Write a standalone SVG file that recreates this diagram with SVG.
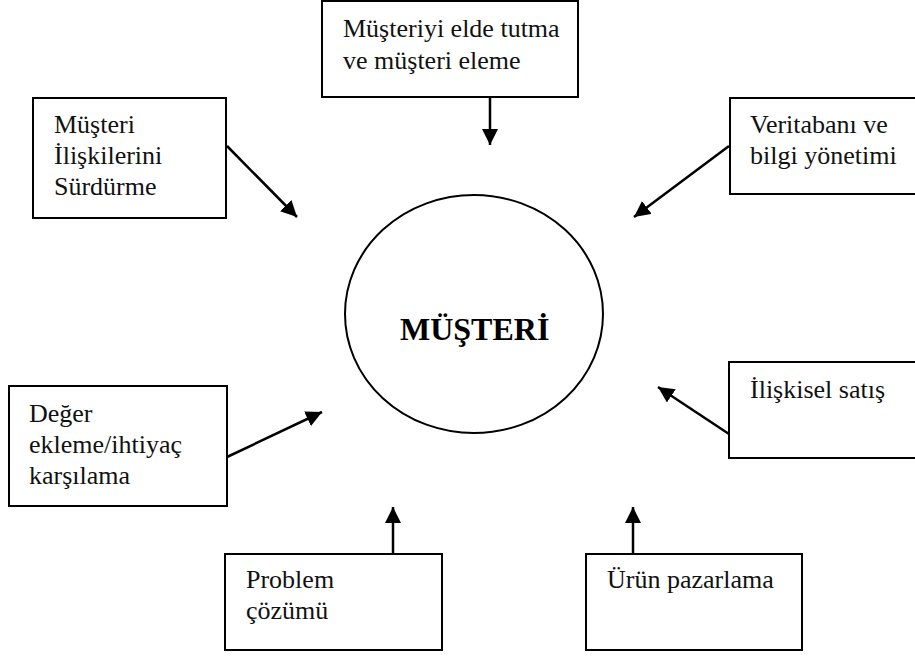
<svg xmlns="http://www.w3.org/2000/svg" width="915" height="657" viewBox="0 0 915 657">
  <style>
    .box { fill: #fff; stroke: #000; stroke-width: 2; }
    .lbl { font-family: "Liberation Serif", "Times New Roman", serif; font-size: 26px; fill: #111; }
    .core { font-family: "Liberation Serif", "Times New Roman", serif; font-size: 32px; font-weight: bold; fill: #000; }
    .conn { stroke: #000; stroke-width: 2.5; fill: none; marker-end: url(#head); }
  </style>
  <defs>
    <marker id="head" viewBox="0 0 16 16" refX="16" refY="8" markerWidth="16" markerHeight="16" markerUnits="userSpaceOnUse" orient="auto">
      <path d="M0,0 L16,8 L0,16 z" fill="#000"/>
    </marker>
  </defs>
  <rect width="915" height="657" fill="#fff"/>

  <g id="musteri">
    <ellipse cx="474" cy="314" rx="129" ry="119" fill="#fff" stroke="#000" stroke-width="2"/>
    <text class="core" x="400" y="340">MÜŞTERİ</text>
  </g>

  <g id="elde-tutma">
    <rect class="box" x="322" y="1" width="256" height="96"/>
    <text class="lbl" x="343" y="37">Müşteriyi elde tutma</text>
    <text class="lbl" x="343" y="69">ve müşteri eleme</text>
  </g>

  <g id="iliskileri-surdurme">
    <rect class="box" x="33" y="98" width="193" height="120"/>
    <text class="lbl" x="54" y="133">Müşteri</text>
    <text class="lbl" x="54" y="164">İlişkilerini</text>
    <text class="lbl" x="54" y="195">Sürdürme</text>
  </g>

  <g id="veritabani">
    <rect class="box" x="730" y="98" width="190" height="96"/>
    <text class="lbl" x="750" y="133">Veritabanı ve</text>
    <text class="lbl" x="750" y="164">bilgi yönetimi</text>
  </g>

  <g id="deger-ekleme">
    <rect class="box" x="9" y="386" width="218" height="120"/>
    <text class="lbl" x="29" y="422">Değer</text>
    <text class="lbl" x="29" y="453">ekleme/ihtiyaç</text>
    <text class="lbl" x="29" y="484">karşılama</text>
  </g>

  <g id="iliskisel-satis">
    <rect class="box" x="729" y="362" width="191" height="96"/>
    <text class="lbl" x="750" y="398">İlişkisel satış</text>
  </g>

  <g id="problem-cozumu">
    <rect class="box" x="225" y="554" width="217" height="96"/>
    <text class="lbl" x="246" y="588">Problem</text>
    <text class="lbl" x="246" y="619">çözümü</text>
  </g>

  <g id="urun-pazarlama">
    <rect class="box" x="586" y="554" width="216" height="96"/>
    <text class="lbl" x="607" y="588">Ürün pazarlama</text>
  </g>

  <g id="connectors">
    <line class="conn" x1="490" y1="97" x2="490" y2="145"/>
    <line class="conn" x1="227" y1="146" x2="297" y2="217"/>
    <line class="conn" x1="729" y1="146" x2="634" y2="217"/>
    <line class="conn" x1="227" y1="457" x2="322" y2="412"/>
    <line class="conn" x1="729" y1="434" x2="658" y2="387"/>
    <line class="conn" x1="393" y1="554" x2="393" y2="507"/>
    <line class="conn" x1="633" y1="554" x2="633" y2="507"/>
  </g>
</svg>
